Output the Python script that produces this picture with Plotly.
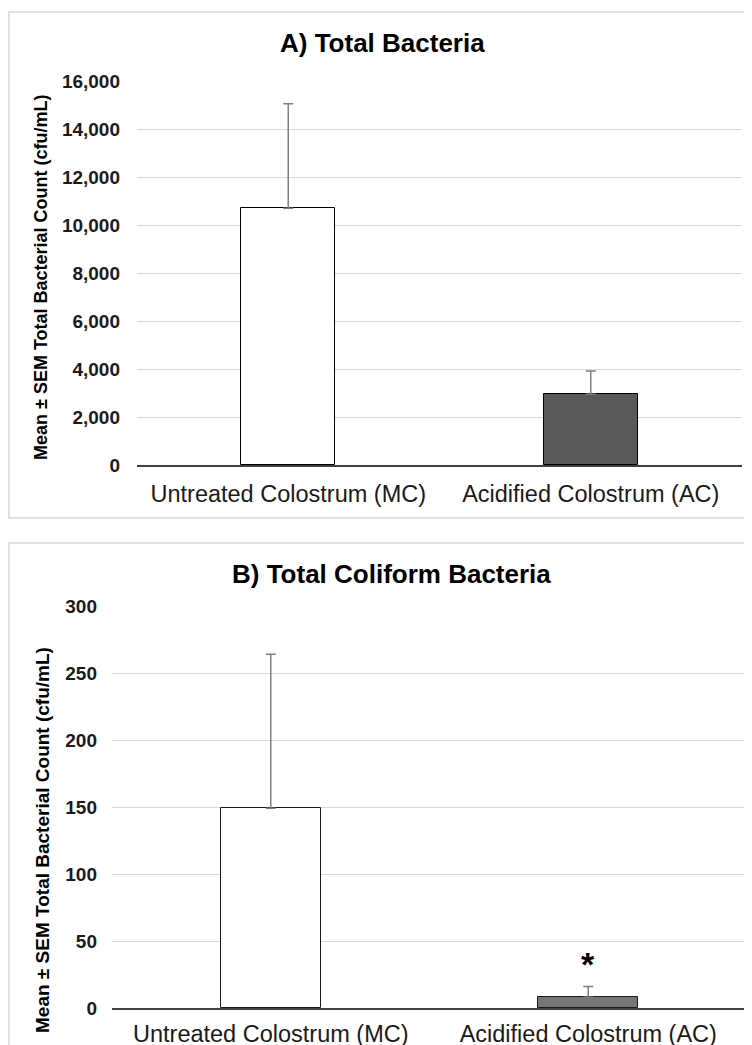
import plotly.graph_objects as go

W, H = 752, 1045
OFF = 8  # default page body margin shifts the figure by this many pixels

categories = ["Untreated Colostrum (MC)", "Acidified Colostrum (AC)"]

# Panel A: Total bacteria
a_means = [10700, 2950]
a_sem = [4350, 970]
a_colors = ["#ffffff", "#595959"]

# Panel B: Total coliform bacteria
b_means = [149, 8]
b_sem = [115, 8]
b_colors = ["#ffffff", "#767676"]

a_title = "A) Total Bacteria"
b_title = "B) Total Coliform Bacteria"
y_title = "Mean ± SEM Total Bacterial Count (cfu/mL)"

FONT = "Liberation Sans, Arial, sans-serif"


def fx(px):
    return (px - OFF) / W


def fy(py):
    return 1 - (py - OFF) / H


fig = go.Figure()

fig.add_trace(go.Bar(
    x=categories, y=a_means, width=0.31,
    marker=dict(color=a_colors, line=dict(color="#000000", width=1)),
    error_y=dict(type="data", symmetric=False, array=a_sem, arrayminus=[0, 0],
                 color="#7f7f7f", thickness=1.5, width=5),
    xaxis="x", yaxis="y", showlegend=False,
))

fig.add_trace(go.Bar(
    x=categories, y=b_means, width=0.315,
    marker=dict(color=b_colors, line=dict(color="#1a1a1a", width=1)),
    error_y=dict(type="data", symmetric=False, array=b_sem, arrayminus=[0, 0],
                 color="#7f7f7f", thickness=1.5, width=5),
    xaxis="x2", yaxis="y2", showlegend=False,
))

xcommon = dict(
    type="category", showgrid=False, zeroline=False, showline=True,
    linecolor="#404040", linewidth=1.5, ticks="", automargin=False,
    tickfont=dict(family=FONT, size=23.5, color="#1a1a1a"),
    fixedrange=True,
)
ycommon = dict(
    showgrid=True, gridcolor="#d9d9d9", gridwidth=1, zeroline=False,
    showline=False, ticks="", automargin=False,
    tickfont=dict(family=FONT, size=19, color="#1a1a1a", weight="bold"),
    fixedrange=True,
)

fig.update_layout(
    width=W, height=H,
    margin=dict(l=0, r=0, t=0, b=0, autoexpand=False),
    paper_bgcolor="#ffffff", plot_bgcolor="#ffffff",
    bargap=0,
    xaxis=dict(domain=[fx(137), fx(742)], anchor="y", ticklabelstandoff=7, **xcommon),
    yaxis=dict(domain=[fy(465), fy(81)], anchor="x", range=[0, 16000], dtick=2000,
               tickformat=",", ticklabelstandoff=16, **ycommon),
    xaxis2=dict(domain=[fx(112), fx(747)], anchor="y2", ticklabelstandoff=4, **xcommon),
    yaxis2=dict(domain=[fy(1008), fy(606)], anchor="x2", range=[0, 300], dtick=50,
                ticklabelstandoff=14, **ycommon),
)

# Panel borders
fig.add_shape(type="rect", xref="paper", yref="paper",
              x0=fx(9), x1=fx(770), y0=fy(518), y1=fy(12),
              line=dict(color="#d9d9d9", width=1.5), layer="below")
fig.add_shape(type="rect", xref="paper", yref="paper",
              x0=fx(9), x1=fx(770), y0=fy(1070), y1=fy(543),
              line=dict(color="#d9d9d9", width=1.5), layer="below")

# Titles
fig.add_annotation(text=a_title, xref="paper", yref="paper", x=fx(382), y=fy(43),
                   xanchor="center", yanchor="middle", showarrow=False,
                   font=dict(family=FONT, size=26, color="#000000", weight="bold"))
fig.add_annotation(text=b_title, xref="paper", yref="paper", x=fx(392), y=fy(574),
                   xanchor="center", yanchor="middle", showarrow=False,
                   font=dict(family=FONT, size=26, color="#000000", weight="bold"))

# Y-axis titles
fig.add_annotation(text=y_title, xref="paper", yref="paper", x=fx(41), y=fy(277),
                   xanchor="center", yanchor="middle", showarrow=False, textangle=-90,
                   font=dict(family=FONT, size=18, color="#000000", weight="bold"))
fig.add_annotation(text=y_title, xref="paper", yref="paper", x=fx(42), y=fy(840),
                   xanchor="center", yanchor="middle", showarrow=False, textangle=-90,
                   font=dict(family=FONT, size=19, color="#000000", weight="bold"))

# Significance marker
fig.add_annotation(text="*", xref="x2", yref="y2", x=categories[1], y=33,
                   xanchor="center", yanchor="middle", showarrow=False,
                   font=dict(family=FONT, size=34, color="#000000", weight="bold"))

fig.write_html("out.html")
